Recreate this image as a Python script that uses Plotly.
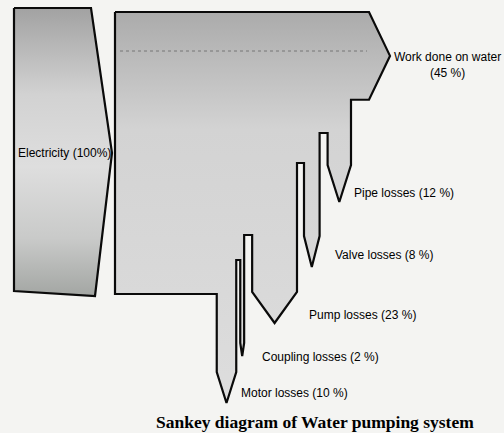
import plotly.graph_objects as go

# Energy balance of a water pumping system (% of the electrical input)
input_label = "Electricity"
input_value = 100
output_label = "Work done on water"
output_value = 45
loss_labels = ["Pipe losses", "Valve losses", "Pump losses", "Coupling losses", "Motor losses"]
loss_values = [12, 8, 23, 2, 10]
title_text = "Sankey diagram of Water pumping system"

# ---- drawing layout (data units are pixels of the canvas) ----
W, H = 504, 433
K = 1.95  # band width in px per percent

# input block: vertical slab with a chevron on its right side
IN_LEFT, IN_TOP, IN_BOT_L, IN_BOT_R = 14, 8, 291, 296
IN_RIGHT_TOP, IN_RIGHT_BOT, IN_TIP_X, IN_TIP_Y = 91, 95, 112, 153

# main block
M_LEFT, M_TOP, M_BOTTOM, M_RIGHT = 115, 12, 294, 351
HEAD_BASE, HEAD_TIP = 369, 390

# loss tongues, drawn right to left along the lower right of the block
body_end = [165, 236, 292, 343, 372]
tip_len = [37, 31, 31, 13, 31]
gap_w = [8, 7, 8, 4]
gap_top = [133, 163, 235, 260]
label_pos = [(352, 193), (333, 255), (307, 315), (260, 357), (239, 393)]

LINE = dict(color="#0a0a0a", width=2.2)
FONT = dict(family="Liberation Sans, Arial, sans-serif", size=12, color="#000000")

# ---- input polygon ----
in_x = [IN_LEFT, IN_RIGHT_TOP, IN_TIP_X, IN_RIGHT_BOT, IN_LEFT, IN_LEFT]
in_y = [IN_TOP, IN_TOP, IN_TIP_Y, IN_BOT_R, IN_BOT_L, IN_TOP]

# ---- main polygon: output arrow + loss tongues ----
w_out = K * output_value
xs = [M_LEFT, HEAD_BASE, HEAD_TIP, HEAD_BASE, M_RIGHT]
ys = [M_TOP, M_TOP, M_TOP + w_out / 2, M_TOP + w_out, M_TOP + w_out]
xr = M_RIGHT
for i, v in enumerate(loss_values):
    xl = xr - K * v
    xc = (xl + xr) / 2
    xs += [xr, xc, xl]
    ys += [body_end[i], body_end[i] + tip_len[i], body_end[i]]
    if i < len(loss_values) - 1:
        xs += [xl, xl - gap_w[i]]
        ys += [gap_top[i], gap_top[i]]
        xr = xl - gap_w[i]
    else:
        xs += [xl, M_LEFT]
        ys += [M_BOTTOM, M_BOTTOM]
xs.append(M_LEFT)
ys.append(M_TOP)

fig = go.Figure()
fig.add_trace(go.Scatter(
    x=in_x, y=in_y, mode="lines", fill="toself", line=LINE,
    fillgradient=dict(type="vertical", start=IN_TOP, stop=IN_BOT_R,
                      colorscale=[[0, "#a2a2a2"], [0.3, "#d2d2d2"], [0.55, "#dedede"],
                                  [0.8, "#c9cac9"], [1, "#a3a6a3"]]),
    hoverinfo="skip", showlegend=False))
fig.add_trace(go.Scatter(
    x=xs, y=ys, mode="lines", fill="toself", line=LINE,
    fillgradient=dict(type="vertical", start=M_TOP, stop=max(ys),
                      colorscale=[[0, "#ababab"], [0.3, "#d3d3d3"], [1, "#dddddd"]]),
    hoverinfo="skip", showlegend=False))
# faint dotted guide across the output band
fig.add_trace(go.Scatter(
    x=[M_LEFT + 5, HEAD_BASE - 2], y=[51, 51], mode="lines",
    line=dict(color="#666666", width=0.8, dash="dot"),
    hoverinfo="skip", showlegend=False))

ann = [
    dict(x=(IN_LEFT + IN_TIP_X) / 2 + 1, y=IN_TIP_Y,
         text=f"{input_label} ({input_value}%)", xanchor="center", yanchor="middle"),
    dict(x=447, y=65, text=f"{output_label}<br>({output_value} %)",
         xanchor="center", yanchor="middle", align="center"),
]
for lab, v, (lx, ly) in zip(loss_labels, loss_values, label_pos):
    ann.append(dict(x=lx, y=ly, text=f"{lab} ({v} %)", xanchor="left", yanchor="middle"))
for a in ann:
    a.update(showarrow=False, font=FONT, xref="x", yref="y")
ann.append(dict(x=315, y=422, text=f"<b>{title_text}</b>", showarrow=False,
                xanchor="center", yanchor="middle", xref="x", yref="y",
                font=dict(family="Liberation Serif, Times New Roman, serif",
                          size=17.5, color="#000000")))

fig.update_layout(
    width=W, height=H, margin=dict(l=0, r=0, t=0, b=0),
    paper_bgcolor="#f4f4f2", plot_bgcolor="#f4f4f2",
    xaxis=dict(range=[0, W], visible=False, fixedrange=True),
    yaxis=dict(range=[H, 0], visible=False, fixedrange=True),
    annotations=ann, showlegend=False,
)

fig.write_html("out.html")
